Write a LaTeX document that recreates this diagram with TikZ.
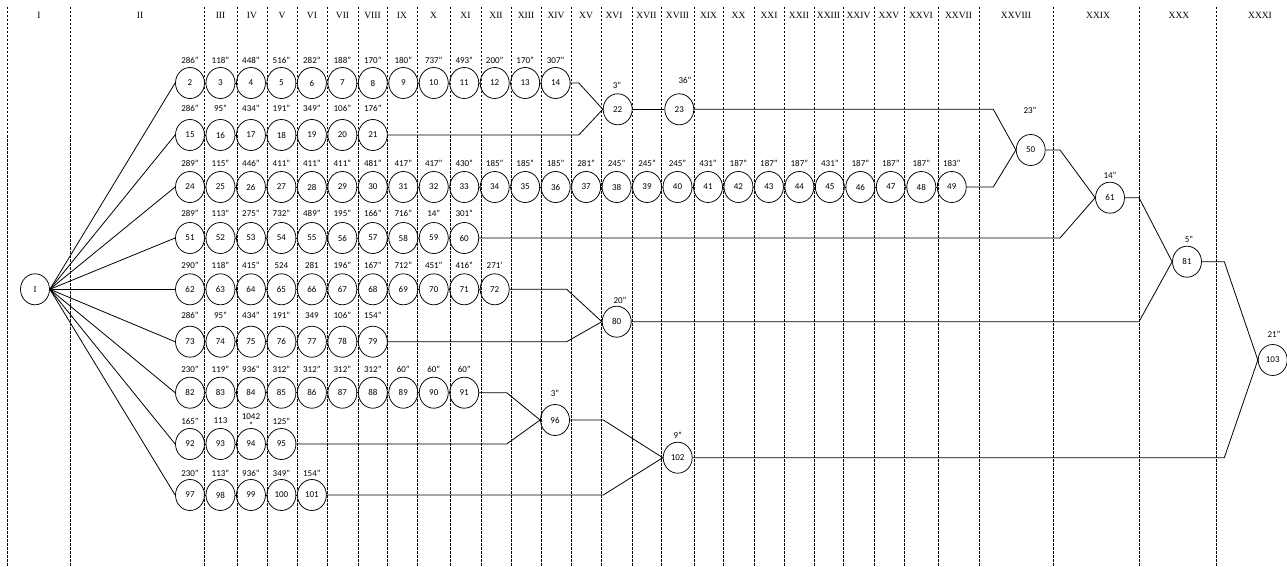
\documentclass[tikz,border=0pt]{standalone}
\usepackage{fontspec}
\setmainfont{Carlito}
\newfontfamily\hdrfont{Liberation Serif}
\usetikzlibrary{shapes.geometric}
\newcommand\noderow[4]{% #1 first number, #2 y, #3 label offset, #4 labels
  \foreach \lab [count=\k from 0] in {#4}{%
    \pgfmathtruncatemacro\num{#1+\k}%
    \node[nd] (c\num) at ({190+30.47*\k},#2) {\num};
    \node[lbl] (l\num) at ({190+30.47*\k},#2-#3) {\lab};
    \ifnum\k>0
      \pgfmathtruncatemacro\prv{\num-1}%
      \draw[link] (c\prv.east) -- (c\num.west);
    \fi
  }%
}
\begin{document}
\begin{tikzpicture}[x=1pt,y=-1pt,
  nd/.style={ellipse,draw,line width=0.75pt,minimum width=29pt,minimum height=31pt,inner sep=0pt,font=\fontsize{9}{10}\selectfont},
  lbl/.style={inner sep=0pt,font=\fontsize{9}{9.5}\selectfont,align=center},
  hdr/.style={inner sep=0pt,font=\hdrfont\fontsize{9.5}{10}\selectfont},
  grid/.style={line width=0.6pt,dash pattern=on 2.5pt off 1.5pt},
  link/.style={line width=0.8pt}]
\useasboundingbox (0,0) rectangle (1287,567);
% column grid
\foreach \x in {7,70.7,204,237,267,297,327,358,387,417,450,481,511,541,571,601,632,661,694,723,754,784,814,843,874,904,938,979,1053,1139,1216}
  \draw[grid] (\x,7) -- (\x,567);
% headers
\foreach \x/\t in {39/I,140/II,220.5/III,252/IV,282/V,312/VI,342.5/VII,372.5/VIII,402/IX,433.5/X,465.5/XI,496/XII,526/XIII,556/XIV,586/XV,614/XVI,646.5/XVII,677.5/XVIII,708.5/XIX,738.5/XX,769/XXI,799/XXII,828.5/XXIII,858.5/XXIV,889/XXV,921/XXVI,958.5/XXVII,1016/XXVIII,1098/XXIX,1179/XXX,1260/XXXI}
  \node[hdr] (h\t) at (\x,15) {\t};
% start node
\node[nd,font=\hdrfont\fontsize{9}{10}\selectfont] (cI) at (35,289.3) {I};
% rows
\noderow{2}{83}{23}{286",118",448",516",282",188",170",180",737",493",200",170",307"}
\noderow{15}{135}{27}{286",95",434",191",349",106",176"}
\noderow{24}{187}{24}{289",115",446",411",411",411",481",417",417",430",185",185",185",281",245",245",245",431",187",187",187",431",187",187",187",183"}
\noderow{51}{238}{25}{289",113",275",732",489",195",166",716",14",301"}
\noderow{62}{289.3}{24}{290",118",415",524,281,196",167",712",451",416",271'}
\noderow{73}{341.7}{26}{286",95",434",191",349,106",154"}
\noderow{82}{392.7}{23}{230",119",936",312",312",312",312",60",60",60"}
\noderow{92}{444}{23}{165",113,{1042\\"},125"}
\noderow{97}{495}{22}{230",113",936",349",154"}
% merge nodes
\node[nd] (c22) at (617.7,109.3) {22};   \node[lbl] (l22) at (617,85) {3"};
\node[nd] (c23) at (679.3,109.3) {23};   \node[lbl] (l23) at (685,80) {36"};
\node[nd] (c50) at (1030.7,150) {50};    \node[lbl] (l50) at (1030,110) {23"};
\node[nd] (c61) at (1110,197.7) {61};    \node[lbl] (l61) at (1110,175) {14"};
\node[nd] (c81) at (1187,261.7) {81};    \node[lbl] (l81) at (1189,239) {5"};
\node[nd] (c80) at (616.7,321.7) {80};   \node[lbl] (l80) at (620,300) {20"};
\node[nd] (c96) at (555,420) {96};       \node[lbl] (l96) at (555,393) {3"};
\node[nd] (c102) at (677.7,457.7) {102}; \node[lbl] (l102) at (677.7,435.7) {9"};
\node[nd] (c103) at (1272.7,360) {103};  \node[lbl] (l103) at (1274,334) {21"};
% turning points
\coordinate (t22) at (578.8,0);
\coordinate (t50) at (993.3,0);
\coordinate (t61) at (1060,0);
\coordinate (t81) at (1139,0);
\coordinate (t103) at (1224.3,0);
\coordinate (t80) at (566.7,0);
\coordinate (t96) at (506.7,0);
\coordinate (t102) at (603.3,0);
% fan from I
\foreach \n in {2,15,24,51,62,73,82,92,97}
  \draw[link] (cI.east) -- (c\n.west);
% merges
\draw[link] (c14.east) -- (c14.east -| t22) -- (c22.west);
\draw[link] (c21.east) -- (c21.east -| t22) -- (c22.west);
\draw[link] (c22.east) -- (c23.west);
\draw[link] (c23.east) -- (c23.east -| t50) -- (c50.west);
\draw[link] (c49.east) -- (c49.east -| t50) -- (c50.west);
\draw[link] (c50.east) -- (c50.east -| t61) -- (c61.west);
\draw[link] (c60.east) -- (c60.east -| t61) -- (c61.west);
\draw[link] (c61.east) -- (c61.east -| t81) -- (c81.west);
\draw[link] (c80.east) -- (c80.east -| t81) -- (c81.west);
\draw[link] (c81.east) -- (c81.east -| t103) -- (c103.west);
\draw[link] (c102.east) -- (c102.east -| t103) -- (c103.west);
\draw[link] (c72.east) -- (c72.east -| t80) -- (c80.west);
\draw[link] (c79.east) -- (c79.east -| t80) -- (c80.west);
\draw[link] (c91.east) -- (c91.east -| t96) -- (c96.west);
\draw[link] (c95.east) -- (c95.east -| t96) -- (c96.west);
\draw[link] (c96.east) -- (c96.east -| t102) -- (c102.west);
\draw[link] (c101.east) -- (c101.east -| t102) -- (c102.west);
\end{tikzpicture}
\end{document}
